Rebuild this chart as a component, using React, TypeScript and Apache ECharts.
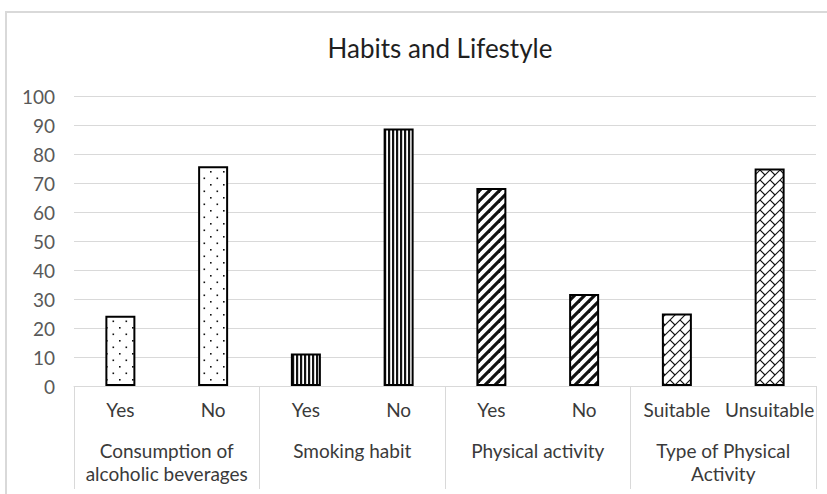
import React, { useEffect, useRef } from "react";
import * as echarts from "echarts";

const subCategories = ["Yes", "No", "Yes", "No", "Yes", "No", "Suitable", "Unsuitable"];
const groupLabels = [
  "Consumption of\nalcoholic beverages",
  "Smoking habit",
  "Physical activity",
  "Type of Physical\nActivity",
];
const values = [24.2, 75.8, 11.2, 88.8, 68.3, 31.7, 25.0, 75.0];
const patternKinds = ["dots", "dots", "vertical", "vertical", "diagonal", "diagonal", "brick", "brick"];
const yMin = 0;
const yMax = 100;
const yInterval = 10;

const FONT = "Lato, 'Open Sans', sans-serif";

function makePattern(kind: string) {
  const c = document.createElement("canvas");
  let w = 10;
  let h = 10;
  if (kind === "dots") { w = 13; h = 13; }
  if (kind === "vertical") { w = 4; h = 4; }
  c.width = w;
  c.height = h;
  const ctx = c.getContext("2d")!;
  ctx.fillStyle = "#ffffff";
  ctx.fillRect(0, 0, w, h);
  ctx.fillStyle = "#111111";
  ctx.strokeStyle = "#111111";
  if (kind === "dots") {
    ctx.fillRect(2, 2, 1.6, 1.6);
    ctx.fillRect(8.5, 8.5, 1.6, 1.6);
  } else if (kind === "vertical") {
    ctx.fillRect(0, 0, 2.2, h);
  } else if (kind === "diagonal") {
    ctx.lineWidth = 3.2;
    for (const o of [-10, 0, 10]) {
      ctx.beginPath();
      ctx.moveTo(o - 2, h + 2);
      ctx.lineTo(o + w + 2, -2);
      ctx.stroke();
    }
  } else if (kind === "brick") {
    ctx.lineWidth = 1.1;
    for (const o of [-10, 0, 10]) {
      ctx.beginPath();
      ctx.moveTo(o - 1, h + 1);
      ctx.lineTo(o + w + 1, -1);
      ctx.stroke();
    }
    ctx.beginPath();
    ctx.moveTo(0, 0);
    ctx.lineTo(5, 5);
    ctx.stroke();
  }
  return { image: c, repeat: "repeat", imageWidth: w, imageHeight: h } as any;
}

export default function App() {
  const ref = useRef<HTMLDivElement>(null);
  useEffect(() => {
    const chart = echarts.init(ref.current!, undefined, { renderer: "svg" });
    const patterns: Record<string, any> = {};
    for (const k of Array.from(new Set(patternKinds))) patterns[k] = makePattern(k);
    chart.setOption({
      animation: false,
      backgroundColor: "#ffffff",
      textStyle: { fontFamily: FONT },
      title: {
        text: "Habits and Lifestyle",
        left: 440,
        top: 35,
        padding: 0,
        textAlign: "center",
        textStyle: { fontFamily: FONT, fontSize: 26, fontWeight: "normal", color: "#1f1f1f" },
      },
      graphic: [
        {
          type: "rect",
          shape: { x: 6, y: 12, width: 900, height: 600 },
          style: { fill: "none", stroke: "#d9d9d9", lineWidth: 2 },
          silent: true,
        },
      ],
      grid: { left: 74, right: 11, top: 96, bottom: 108, containLabel: false },
      xAxis: [
        {
          type: "category",
          data: subCategories,
          position: "bottom",
          axisLine: { show: true, lineStyle: { color: "#d9d9d9", width: 1 } },
          axisTick: { show: false },
          axisLabel: { interval: 0, color: "#3a3a3a", fontSize: 19, margin: 14, fontFamily: FONT },
        },
        {
          type: "category",
          data: groupLabels,
          position: "bottom",
          offset: 0,
          axisLine: { show: false },
          axisTick: { show: true, interval: 0, length: 103, lineStyle: { color: "#d9d9d9", width: 1 } },
          axisLabel: { interval: 0, color: "#3a3a3a", fontSize: 19, margin: 53, lineHeight: 23, fontFamily: FONT },
        },
      ],
      yAxis: {
        type: "value",
        min: yMin,
        max: yMax,
        interval: yInterval,
        axisLine: { show: false },
        axisTick: { show: false },
        splitLine: { lineStyle: { color: "#d9d9d9", width: 1 } },
        axisLabel: { color: "#595959", fontSize: 19, margin: 19, fontFamily: FONT },
      },
      series: [
        {
          type: "bar",
          xAxisIndex: 0,
          barWidth: 30,
          data: values.map((v, i) => ({
            value: v,
            itemStyle: {
              color: patterns[patternKinds[i]],
              borderColor: "#000000",
              borderWidth: 2,
            },
          })),
        },
      ],
    });
    return () => chart.dispose();
  }, []);
  return <div ref={ref} style={{ position: "fixed", left: 0, top: 0, width: 827, height: 494 }} />;
}
